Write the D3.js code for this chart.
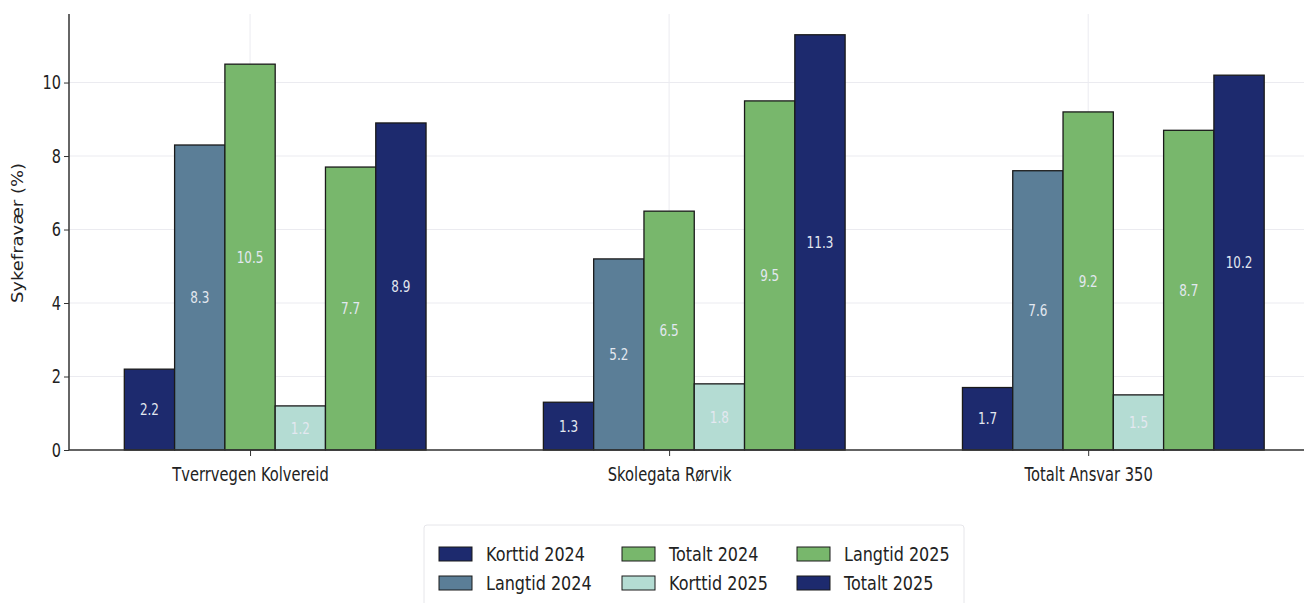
<!DOCTYPE html>
<html><head><meta charset="utf-8">
<script src="https://cdn.jsdelivr.net/npm/d3@7/dist/d3.min.js"></script>
<style>body{margin:0;background:#fff;} text{font-family:"DejaVu Sans",sans-serif;}</style>
</head><body><svg id="c" width="1304" height="603"></svg>
<script>
const categories = ["Tverrvegen Kolvereid", "Skolegata Rørvik", "Totalt Ansvar 350"];
const seriesNames = ["Korttid 2024", "Langtid 2024", "Totalt 2024", "Korttid 2025", "Langtid 2025", "Totalt 2025"];
const korttid2024 = [2.2, 1.3, 1.7];
const langtid2024 = [8.3, 5.2, 7.6];
const totalt2024 = [10.5, 6.5, 9.2];
const korttid2025 = [1.2, 1.8, 1.5];
const langtid2025 = [7.7, 9.5, 8.7];
const totalt2025 = [8.9, 11.3, 10.2];
const yTicks = [0, 2, 4, 6, 8, 10];
const colors = ["#1d2a6e", "#5b7e97", "#78b76c", "#b4dcd3", "#78b76c", "#1d2a6e"];

const series = [korttid2024, langtid2024, totalt2024, korttid2025, langtid2025, totalt2025];
const svg = d3.select("#c");
const barW = 0.12;
const x = d3.scaleLinear().domain([-0.432, 2.515]).range([69, 1304]);
const y = d3.scaleLinear().domain([0, 11.865]).range([450, 14]);

// grid
svg.append("g").selectAll("line").data(yTicks).join("line")
  .attr("x1", 69).attr("x2", 1304).attr("y1", d => y(d)).attr("y2", d => y(d))
  .attr("stroke", "#ebebf0").attr("stroke-width", 1);
svg.append("g").selectAll("line").data(categories).join("line")
  .attr("x1", (d, i) => x(i)).attr("x2", (d, i) => x(i)).attr("y1", 14).attr("y2", 450)
  .attr("stroke", "#ebebf0").attr("stroke-width", 1);

// bars
series.forEach((vals, s) => {
  const g = svg.append("g");
  vals.forEach((v, i) => {
    const cx = i + (s - 2) * barW;
    const x0 = x(cx - barW / 2), x1 = x(cx + barW / 2);
    g.append("rect").attr("x", x0).attr("y", y(v)).attr("width", x1 - x0).attr("height", y(0) - y(v))
      .attr("fill", colors[s]).attr("stroke", "#1a1a1a").attr("stroke-width", 1.3);
    g.append("text").attr("transform", `translate(${(x0 + x1) / 2},${y(v / 2)}) scale(1,1.35)`)
      .attr("dy", "0.35em")
      .attr("text-anchor", "middle").attr("font-size", 12).attr("fill", "#e3e8f0").text(v.toFixed(1));
  });
});

// axes
const yAxis = d3.axisLeft(y).tickValues(yTicks).tickSize(5).tickPadding(4).tickFormat(d3.format("d"));
const ga = svg.append("g").attr("transform", "translate(69,0)").call(yAxis);
ga.select(".domain").remove();
ga.selectAll("text").attr("font-size", 14.5).attr("fill", "#222").style("font-family", "DejaVu Sans")
  .attr("x", 0).attr("transform", "translate(-8,0) scale(1,1.3)");
ga.selectAll("line").attr("stroke", "#333");
svg.append("line").attr("x1", 69).attr("x2", 69).attr("y1", 14).attr("y2", 450).attr("stroke", "#333").attr("stroke-width", 1.5);

const xAxis = d3.axisBottom(x).tickValues([0, 1, 2]).tickSize(6).tickPadding(6).tickFormat(i => categories[i]);
const gx = svg.append("g").attr("transform", "translate(0,450)").call(xAxis);
gx.select(".domain").remove();
gx.selectAll("text").attr("font-size", 14.7).attr("fill", "#222").style("font-family", "DejaVu Sans")
  .attr("y", 0).attr("dy", "0.35em").attr("transform", "translate(0,24) scale(1,1.3)");
gx.selectAll("line").attr("stroke", "#333");
svg.append("line").attr("x1", 69).attr("x2", 1304).attr("y1", 450).attr("y2", 450).attr("stroke", "#333").attr("stroke-width", 1.5);

svg.append("text").attr("transform", "translate(18,233) rotate(-90) scale(1.2,1)").attr("text-anchor", "middle")
  .attr("dy", "0.35em").attr("font-size", 15).attr("fill", "#222").text("Sykefravær (%)");

// legend
const lg = svg.append("g");
lg.append("rect").attr("x", 424).attr("y", 525).attr("width", 540).attr("height", 90).attr("rx", 3)
  .attr("fill", "#fff").attr("stroke", "#e6e6ea");
const colX = [439, 622, 797];
seriesNames.forEach((n, k) => {
  const col = Math.floor(k / 2), row = k % 2;
  const cy = 554 + row * 29;
  lg.append("rect").attr("x", colX[col]).attr("y", cy - 7).attr("width", 33).attr("height", 14)
    .attr("fill", colors[k]).attr("stroke", "#1a1a1a").attr("stroke-width", 1);
  lg.append("text").attr("transform", `translate(${colX[col] + 47},${cy}) scale(1,1.2)`).attr("dy", "0.35em")
    .attr("font-size", 16).attr("fill", "#222").text(n);
});
</script></body></html>
